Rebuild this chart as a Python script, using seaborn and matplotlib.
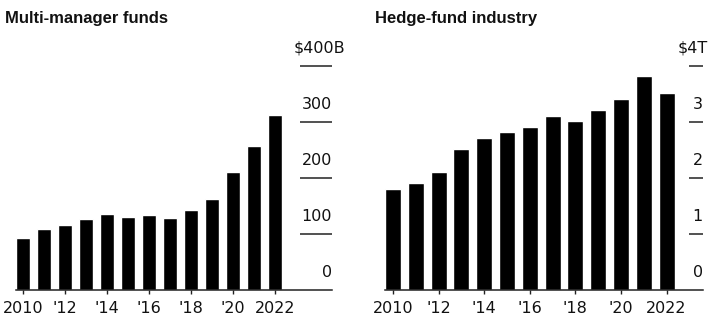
import matplotlib
matplotlib.use("Agg")
import matplotlib.pyplot as plt
import seaborn as sns
import pandas as pd

sns.set_theme(style="white")
plt.rcParams['font.family'] = ['Liberation Sans', 'DejaVu Sans']

years = [str(y) for y in range(2010, 2023)]
multi_manager = [92, 108, 116, 127, 136, 130, 134, 129, 143, 163, 211, 256, 312]
hedge_fund = [1.80, 1.90, 2.11, 2.51, 2.71, 2.81, 2.91, 3.11, 3.01, 3.21, 3.41, 3.82, 3.51]
xtick_labels = ["2010", "'12", "'14", "'16", "'18", "'20", "2022"]
left_yticks = [0, 100, 200, 300, 400]
left_ylabels = ["0", "100", "200", "300", "$400B"]
right_yticks = [0, 1, 2, 3, 4]
right_ylabels = ["0", "1", "2", "3", "$4T"]
titles = ["Multi-manager funds", "Hedge-fund industry"]

NUMFONT = ['DejaVu Sans']
NUMSIZE = 11.5

W, H = 720, 321
fig = plt.figure(figsize=(W / 100, H / 100), dpi=100)
fig.patch.set_facecolor("white")

def make_ax(left_px, right_px, base_px, top_px):
    return fig.add_axes([left_px / W, (H - base_px) / H,
                         (right_px - left_px) / W, (base_px - top_px) / H])

ax1 = make_ax(15.65, 331.9, 290, 65.7)
ax2 = make_ax(385.0, 702.8, 290, 65.7)

# (axes, values, xlim, gridline start, ticks, labels, ymax, top label x-offset in pt)
configs = [
    (ax1, multi_manager, (-0.35, 14.71), 13.19, left_yticks, left_ylabels, 400, 9.4),
    (ax2, hedge_fund, (-0.35, 13.59), 13.0, right_yticks, right_ylabels, 4, 4.0),
]

for ax, vals, xl, gstart, yt, yl, ymax, topdx in configs:
    df = pd.DataFrame({"year": years, "value": vals})
    sns.barplot(data=df, x="year", y="value", color="black", saturation=1,
                width=0.7, ax=ax)
    ax.set_xlim(*xl)
    ax.set_ylim(0, ymax)
    ax.set_facecolor("white")
    for s in ["top", "right", "left"]:
        ax.spines[s].set_visible(False)
    ax.spines["bottom"].set_color("#222222")
    ax.spines["bottom"].set_linewidth(1.1)
    ax.set_xlabel("")
    ax.set_ylabel("")
    ax.set_yticks([])
    ax.set_xticks(range(0, 13, 2))
    ax.set_xticklabels(xtick_labels, fontsize=NUMSIZE, color="#111111",
                       family=NUMFONT)
    ax.tick_params(axis="x", length=3, width=1, color="#222222", pad=5,
                   bottom=True)
    ax.hlines(yt[1:], gstart, xl[1], color="#222222", linewidth=1.1,
              clip_on=False)
    for i, (v, lab) in enumerate(zip(yt, yl)):
        dx = topdx if i == len(yt) - 1 else 0
        ax.annotate(lab, (xl[1], v), xytext=(dx, 7.0), textcoords="offset points",
                    ha="right", va="bottom", fontsize=NUMSIZE, color="#111111",
                    family=NUMFONT, annotation_clip=False)

fig.text(5 / W, 1 - 11 / H, titles[0], ha="left", va="top", fontsize=12,
         fontweight="bold", color="#111111")
fig.text(375 / W, 1 - 11 / H, titles[1], ha="left", va="top", fontsize=12,
         fontweight="bold", color="#111111")

fig.savefig("out.png", dpi=100, facecolor="white")
